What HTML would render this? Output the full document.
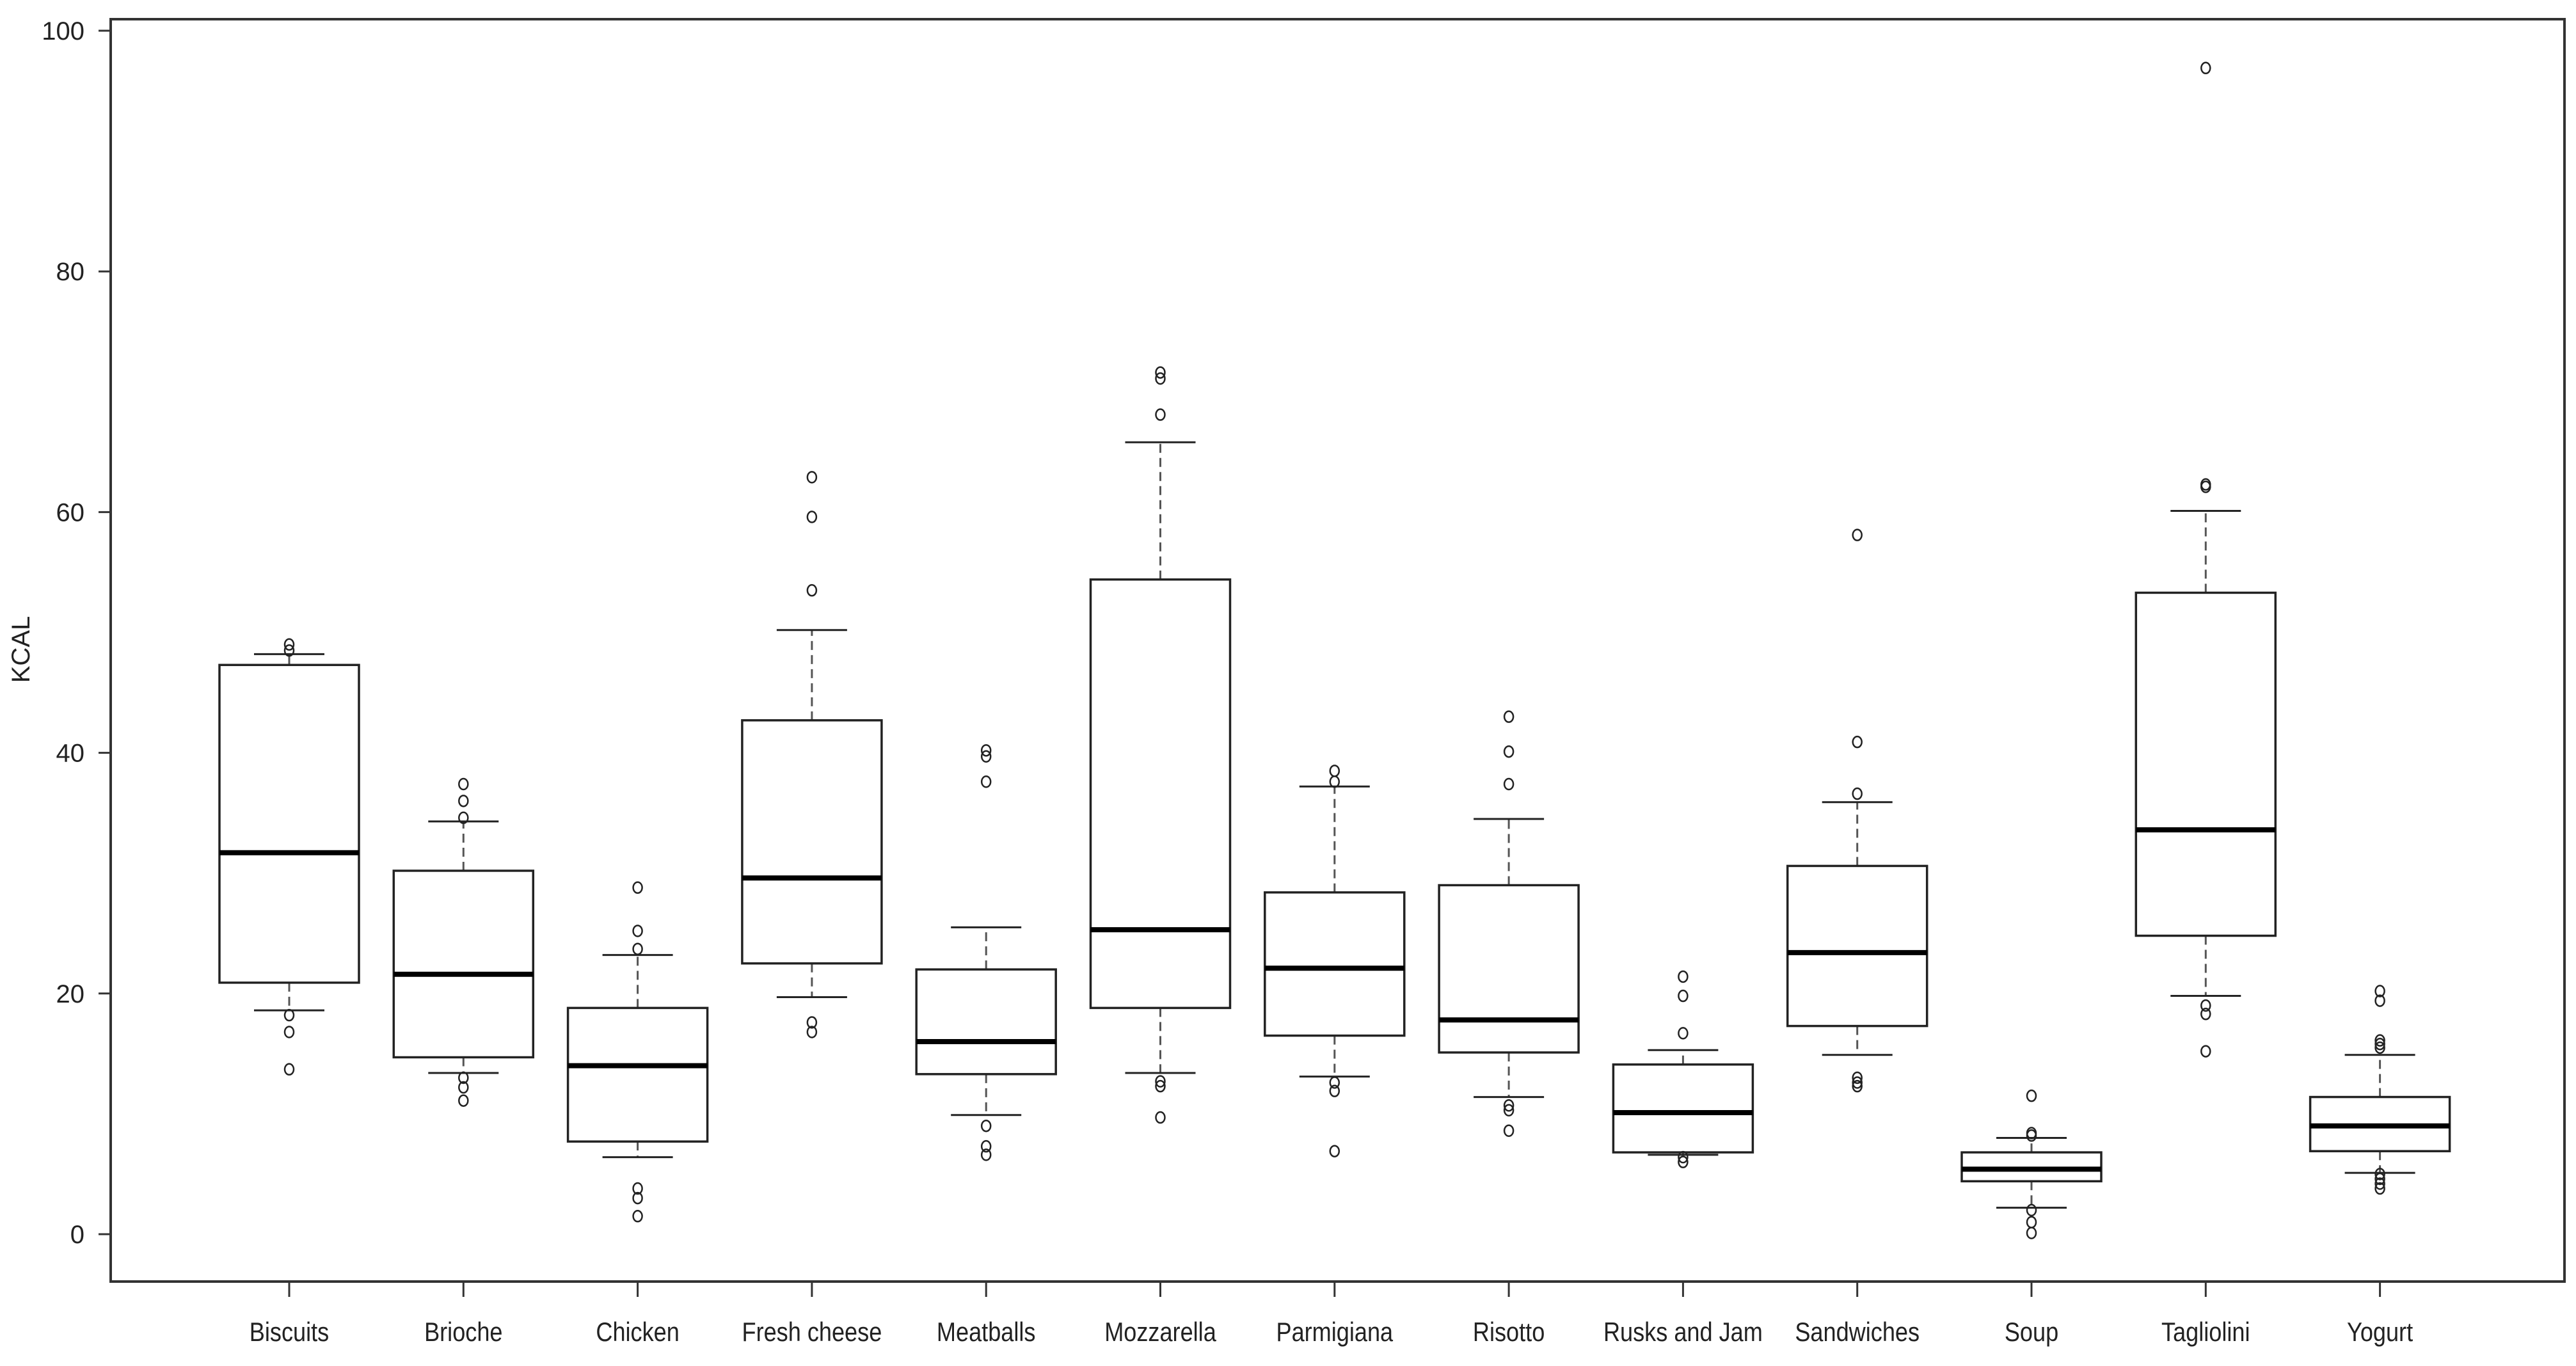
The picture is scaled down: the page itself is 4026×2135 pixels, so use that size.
<!DOCTYPE html>
<html><head><meta charset="utf-8"><style>
html,body{margin:0;padding:0;background:#fff;}
svg{display:block;}
text{font-family:"Liberation Sans",sans-serif;fill:#222;}
</style></head><body>
<svg id="chart" width="4026" height="2135" viewBox="0 0 4026 2135" xmlns="http://www.w3.org/2000/svg">
<rect x="173" y="30" width="3835" height="1973" fill="#fff" stroke="#333" stroke-width="4"/>
<text transform="translate(46,1015) rotate(-90)" text-anchor="middle" font-size="40">KCAL</text>
<g id="yaxis"></g>
<g id="xaxis"></g>
<g id="boxes"></g>
</svg>
<script>
const categories = ["Biscuits","Brioche","Chicken","Fresh cheese","Meatballs","Mozzarella","Parmigiana","Risotto","Rusks and Jam","Sandwiches","Soup","Tagliolini","Yogurt"];
const lowerWhisker = [18.6,13.4,6.4,19.7,9.9,13.4,13.1,11.4,6.6,14.9,2.2,19.8,5.1];
const q1 = [20.9,14.7,7.7,22.5,13.3,18.8,16.5,15.1,6.8,17.3,4.4,24.8,6.9];
const median = [31.7,21.6,14.0,29.6,16.0,25.3,22.1,17.8,10.1,23.4,5.4,33.6,9.0];
const q3 = [47.3,30.2,18.8,42.7,22.0,54.4,28.4,29.0,14.1,30.6,6.8,53.3,11.4];
const upperWhisker = [48.2,34.3,23.2,50.2,25.5,65.8,37.2,34.5,15.3,35.9,8.0,60.1,14.9];
const outliers = [
 [49.0,48.5,18.2,16.8,13.7],
 [37.4,36.0,34.6,13.0,12.2,11.1],
 [28.8,25.2,23.7,3.8,3.0,1.5],
 [62.9,59.6,53.5,17.6,16.8],
 [40.2,39.7,37.6,9.0,7.3,6.6],
 [71.6,71.1,68.1,12.7,12.3,9.7],
 [38.5,37.6,12.6,11.9,6.9],
 [43.0,40.1,37.4,10.7,10.3,8.6],
 [21.4,19.8,16.7,6.4,6.0],
 [58.1,40.9,36.6,13.0,12.6,12.3],
 [11.5,8.4,8.2,2.0,1.0,0.1],
 [96.9,62.3,62.1,19.0,18.3,15.2],
 [20.2,19.4,16.1,15.8,15.5,5.0,4.6,4.2,3.8]
];
const yTicks = [0,20,40,60,80,100];

const NS="http://www.w3.org/2000/svg";
function y(v){return 1929 - v*18.81;}
function x(i){return 452 + i*272.3;}
function mk(tag,attrs,parent){const e=document.createElementNS(NS,tag);for(const k in attrs)e.setAttribute(k,attrs[k]);parent.appendChild(e);return e;}
const ya=document.getElementById('yaxis'), xa=document.getElementById('xaxis'), bx=document.getElementById('boxes');
yTicks.forEach(t=>{
  const l=mk('line',{x1:154,x2:173,y1:y(t),y2:y(t),stroke:'#333','stroke-width':3},ya);
  
  
  const tx=mk('text',{x:132,y:y(t)+14,'text-anchor':'end','font-size':40},ya);
  tx.textContent=t;
  
  
});
categories.forEach((c,i)=>{
  const cx=x(i);
  const tk=mk('line',{x1:cx,x2:cx,y1:2003,y2:2027,stroke:'#333','stroke-width':3},xa);
  
  
  const tx=mk('text',{x:cx,y:2096,'text-anchor':'middle','font-size':42,transform:`translate(${cx},0) scale(0.86,1) translate(${-cx},0)`},xa);
  tx.textContent=c;
  
  
  const g=mk('g',{},bx);
  
  
  mk('line',{x1:cx,x2:cx,y1:y(q3[i]),y2:y(upperWhisker[i]),stroke:'#555','stroke-width':3,'stroke-dasharray':'14 8'},g);
  mk('line',{x1:cx,x2:cx,y1:y(q1[i]),y2:y(lowerWhisker[i]),stroke:'#555','stroke-width':3,'stroke-dasharray':'14 8'},g);
  mk('line',{x1:cx-55,x2:cx+55,y1:y(upperWhisker[i]),y2:y(upperWhisker[i]),stroke:'#222','stroke-width':3},g);
  mk('line',{x1:cx-55,x2:cx+55,y1:y(lowerWhisker[i]),y2:y(lowerWhisker[i]),stroke:'#222','stroke-width':3},g);
  mk('rect',{x:cx-109,y:y(q3[i]),width:218,height:y(q1[i])-y(q3[i]),fill:'#fff',stroke:'#222','stroke-width':3.5},g);
  mk('line',{x1:cx-109,x2:cx+109,y1:y(median[i]),y2:y(median[i]),stroke:'#000','stroke-width':8},g);
  outliers[i].forEach(v=>{
    const o=mk('ellipse',{cx:cx,cy:y(v),rx:7,ry:8.5,fill:'none',stroke:'#222','stroke-width':2.5},g);
    
    
  });
});
</script>
</body></html>
